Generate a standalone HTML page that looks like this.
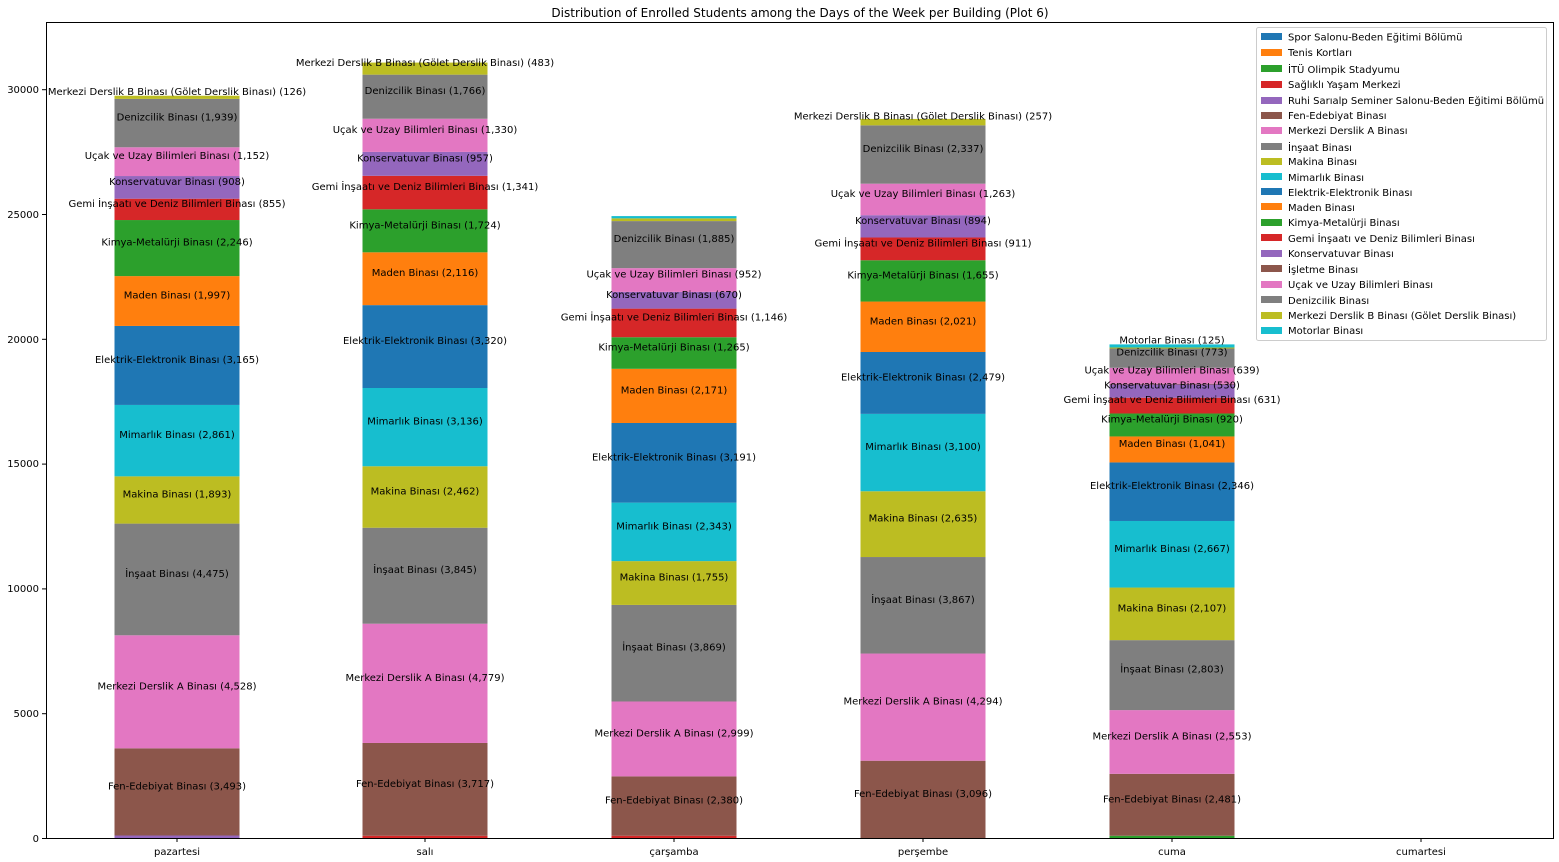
<!DOCTYPE html>
<html><head><meta charset="utf-8">
<style>
html,body{margin:0;padding:0;background:#fff;}
svg{display:block;font-family:"DejaVu Sans","Liberation Sans",sans-serif;}
</style></head>
<body>
<svg id="s" width="1559" height="862" viewBox="0 0 1559 862" xmlns="http://www.w3.org/2000/svg">
<rect width="1559" height="862" fill="#fff"/>
<text x="800" y="17" font-size="12" text-anchor="middle">Distribution of Enrolled Students among the Days of the Week per Building (Plot 6)</text>
<g id="bars"></g>
<rect x="46.5" y="22.5" width="1507" height="816" fill="none" stroke="#000" stroke-width="1"/>
<g font-size="10" text-anchor="end">
<line x1="42" y1="838.5" x2="46" y2="838.5" stroke="#000"/><text x="39" y="842">0</text>
<line x1="42" y1="713.7" x2="46" y2="713.7" stroke="#000"/><text x="39" y="717">5000</text>
<line x1="42" y1="588.9" x2="46" y2="588.9" stroke="#000"/><text x="39" y="592">10000</text>
<line x1="42" y1="464.1" x2="46" y2="464.1" stroke="#000"/><text x="39" y="467">15000</text>
<line x1="42" y1="339.3" x2="46" y2="339.3" stroke="#000"/><text x="39" y="343">20000</text>
<line x1="42" y1="214.5" x2="46" y2="214.5" stroke="#000"/><text x="39" y="218">25000</text>
<line x1="42" y1="89.7" x2="46" y2="89.7" stroke="#000"/><text x="39" y="93">30000</text>
</g>
<g font-size="10" text-anchor="middle">
<line x1="177" y1="838" x2="177" y2="842" stroke="#000"/><text x="177" y="855">pazartesi</text>
<line x1="425" y1="838" x2="425" y2="842" stroke="#000"/><text x="425" y="855">salı</text>
<line x1="674" y1="838" x2="674" y2="842" stroke="#000"/><text x="674" y="855">çarşamba</text>
<line x1="923" y1="838" x2="923" y2="842" stroke="#000"/><text x="923" y="855">perşembe</text>
<line x1="1172" y1="838" x2="1172" y2="842" stroke="#000"/><text x="1172" y="855">cuma</text>
<line x1="1421" y1="838" x2="1421" y2="842" stroke="#000"/><text x="1421" y="855">cumartesi</text>
</g>
<rect x="1256.5" y="27.5" width="290" height="313" rx="2" fill="#fff" fill-opacity="0.8" stroke="#ccc"/>
<g font-size="10">
<rect x="1261" y="33" width="21" height="7" fill="#1f77b4"/><text x="1288" y="40.5">Spor Salonu-Beden Eğitimi Bölümü</text>
<rect x="1261" y="49" width="21" height="7" fill="#ff7f0e"/><text x="1288" y="56">Tenis Kortları</text>
<rect x="1261" y="65" width="21" height="7" fill="#2ca02c"/><text x="1288" y="73">İTÜ Olimpik Stadyumu</text>
<rect x="1261" y="81" width="21" height="7" fill="#d62728"/><text x="1288" y="88">Sağlıklı Yaşam Merkezi</text>
<rect x="1261" y="97" width="21" height="7" fill="#9467bd"/><text x="1288" y="104">Ruhi Sarıalp Seminer Salonu-Beden Eğitimi Bölümü</text>
<rect x="1261" y="112" width="21" height="7" fill="#8c564b"/><text x="1288" y="119">Fen-Edebiyat Binası</text>
<rect x="1261" y="127" width="21" height="7" fill="#e377c2"/><text x="1288" y="134">Merkezi Derslik A Binası</text>
<rect x="1261" y="143" width="21" height="7" fill="#7f7f7f"/><text x="1288" y="151">İnşaat Binası</text>
<rect x="1261" y="158" width="21" height="7" fill="#bcbd22"/><text x="1288" y="165">Makina Binası</text>
<rect x="1261" y="173" width="21" height="7" fill="#17becf"/><text x="1288" y="181">Mimarlık Binası</text>
<rect x="1261" y="188" width="21" height="7" fill="#1f77b4"/><text x="1288" y="196">Elektrik-Elektronik Binası</text>
<rect x="1261" y="203" width="21" height="7" fill="#ff7f0e"/><text x="1288" y="211">Maden Binası</text>
<rect x="1261" y="219" width="21" height="7" fill="#2ca02c"/><text x="1288" y="226">Kimya-Metalürji Binası</text>
<rect x="1261" y="234" width="21" height="7" fill="#d62728"/><text x="1288" y="242">Gemi İnşaatı ve Deniz Bilimleri Binası</text>
<rect x="1261" y="250" width="21" height="7" fill="#9467bd"/><text x="1288" y="257">Konservatuvar Binası</text>
<rect x="1261" y="265" width="21" height="7" fill="#8c564b"/><text x="1288" y="273">İşletme Binası</text>
<rect x="1261" y="281" width="21" height="7" fill="#e377c2"/><text x="1288" y="288">Uçak ve Uzay Bilimleri Binası</text>
<rect x="1261" y="296" width="21" height="7" fill="#7f7f7f"/><text x="1288" y="304">Denizcilik Binası</text>
<rect x="1261" y="312" width="21" height="7" fill="#bcbd22"/><text x="1288" y="319">Merkezi Derslik B Binası (Gölet Derslik Binası)</text>
<rect x="1261" y="327" width="21" height="7" fill="#17becf"/><text x="1288" y="334">Motorlar Binası</text>
</g>
</svg>
<script>
var C={b:"#1f77b4",o:"#ff7f0e",g:"#2ca02c",r:"#d62728",p:"#9467bd",br:"#8c564b",pk:"#e377c2",gr:"#7f7f7f",ol:"#bcbd22",c:"#17becf"};
var N=["Fen-Edebiyat Binası","Merkezi Derslik A Binası","İnşaat Binası","Makina Binası","Mimarlık Binası","Elektrik-Elektronik Binası","Maden Binası","Kimya-Metalürji Binası","Gemi İnşaatı ve Deniz Bilimleri Binası","Konservatuvar Binası","Uçak ve Uzay Bilimleri Binası","Denizcilik Binası","Merkezi Derslik B Binası (Gölet Derslik Binası)"];
var NC=["br","pk","gr","ol","c","b","o","g","r","p","pk","gr","ol"];
var days=[
 {x:177,pre:[["p",100]],v:[3493,4528,4475,1893,2861,3165,1997,2246,855,908,1152,1939,126],post:[]},
 {x:425,pre:[["r",90]],v:[3717,4779,3845,2462,3136,3320,2116,1724,1341,957,1330,1766,483],post:[]},
 {x:674,pre:[["r",90]],v:[2380,2999,3869,1755,2343,3191,2171,1265,1146,670,952,1885,null],post:[["ol",110],["c",90]]},
 {x:923,pre:[],v:[3096,4294,3867,2635,3100,2479,2021,1655,911,894,1263,2337,257],post:[]},
 {x:1172,pre:[["g",90]],v:[2481,2553,2803,2107,2667,2346,1041,920,631,530,30,639,773,40],post:[["c",125,"Motorlar Binası"]],cuma:true}
];
var k=0.02496,Y0=838,W=125,h="",t="";
function fmt(n){return n.toString().replace(/\B(?=(\d{3})+(?!\d))/g,",");}
days.forEach(function(d){
 var y=0,segs=[];
 d.pre.forEach(function(s){segs.push([C[s[0]],s[1],null]);});
 if(d.cuma){
  var nm=[0,1,2,3,4,5,6,7,8,9,-1,10,11,12];
  d.v.forEach(function(v,i){var j=nm[i];if(j<0)segs.push([C.br,v,null]);else if(j==12)segs.push([C.ol,v,null]);else segs.push([C[NC[j]],v,N[j]]);});
 } else d.v.forEach(function(v,i){if(v===null)return;segs.push([C[NC[i]],v,N[i]]);});
 d.post.forEach(function(s){segs.push([C[s[0]],s[1],s[2]||null]);});
 segs.forEach(function(s){
  var y1=Y0-y*k,y2=Y0-(y+s[1])*k;
  h+='<rect x="'+(d.x-W/2)+'" y="'+y2+'" width="'+W+'" height="'+(y1-y2)+'" fill="'+s[0]+'"/>';
  if(s[2]){var cy=(y1+y2)/2-2.5;t+='<text x="'+d.x+'" y="'+cy+'" font-size="10" text-anchor="middle">'+s[2]+' ('+fmt(s[1])+')</text>';}
  y+=s[1];
 });
});
document.getElementById("bars").innerHTML=h+t;
</script>
</body></html>
